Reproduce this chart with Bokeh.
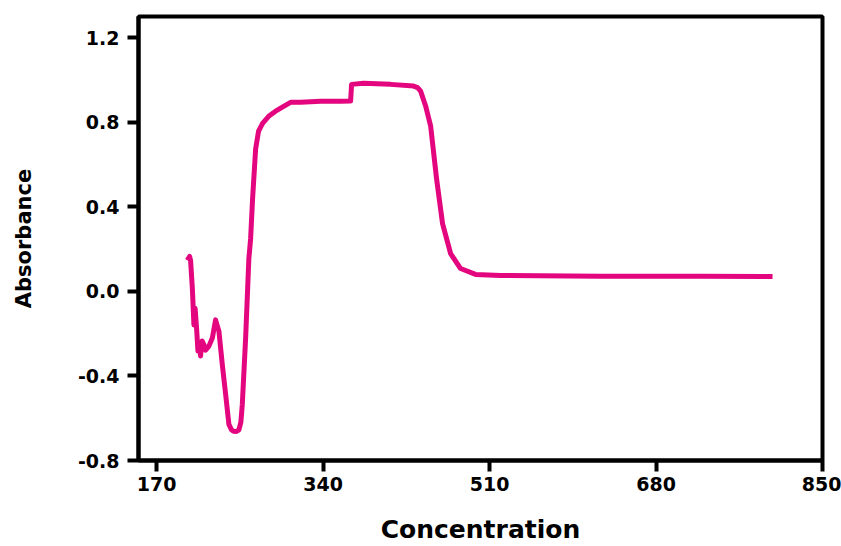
from bokeh.plotting import figure
from bokeh.models import FixedTicker, NumeralTickFormatter, Range1d
from bokeh.embed import file_html
from bokeh.resources import INLINE

concentration = [201.3, 203.7, 204.7, 206.5, 208.1, 209.3, 210.8, 212.2, 213.4, 214.9,
                 216.5, 218.3, 220.0, 223.4, 226.9, 230.2, 233.6, 237.1, 240.5, 243.8,
                 246.5, 248.9, 251.5, 254.0, 256.0, 257.5, 260.9, 264.2, 266.0, 268.0,
                 271.1, 274.1, 278.2, 284.4, 291.5, 299.7, 306.8, 317.0, 337.4, 357.9,
                 368.1, 369.1, 381.3, 408.9, 432.4, 436.5, 439.6, 444.7, 449.8, 455.9,
                 462.0, 470.2, 480.4, 495.7, 521.2, 623.3, 725.4, 799.0]
absorbance = [0.147, 0.165, 0.146, 0.014, -0.159, -0.08, -0.174, -0.282, -0.245, -0.306,
              -0.235, -0.253, -0.278, -0.259, -0.221, -0.135, -0.188, -0.347, -0.488, -0.629,
              -0.655, -0.662, -0.663, -0.655, -0.620, -0.535, -0.221, 0.155, 0.249, 0.438,
              0.673, 0.758, 0.795, 0.828, 0.852, 0.875, 0.894, 0.894, 0.899, 0.899,
              0.900, 0.979, 0.984, 0.979, 0.971, 0.964, 0.947, 0.877, 0.783, 0.532,
              0.320, 0.179, 0.108, 0.080, 0.075, 0.071, 0.071, 0.070]

x_ticks = [170, 340, 510, 680, 850]
y_ticks = [-0.8, -0.4, 0.0, 0.4, 0.8, 1.2]

p = figure(width=841, height=546, output_backend="svg", toolbar_location=None,
           x_range=Range1d(151.5, 850), y_range=Range1d(-0.8, 1.3),
           min_border_left=138, min_border_right=19, min_border_top=16, min_border_bottom=84,
           x_axis_label="Concentration", y_axis_label="Absorbance")

p.line(concentration, absorbance, line_color="#E3067F", line_width=5, line_join="round")

p.xgrid.visible = False
p.ygrid.visible = False
p.outline_line_color = "black"
p.outline_line_width = 4

p.xaxis.ticker = FixedTicker(ticks=x_ticks)
p.yaxis.ticker = FixedTicker(ticks=y_ticks)
p.yaxis.formatter = NumeralTickFormatter(format="0.0")

for ax in (p.xaxis, p.yaxis):
    ax.axis_line_width = 4
    ax.axis_line_color = "black"
    ax.major_tick_line_width = 4
    ax.major_tick_line_color = "black"
    ax.major_tick_out = 11
    ax.major_tick_in = 0
    ax.minor_tick_line_color = None
    ax.major_label_text_font = "DejaVu Sans"
    ax.major_label_text_font_style = "bold"
    ax.major_label_text_font_size = "19px"
    ax.major_label_text_color = "black"
    ax.axis_label_text_font = "DejaVu Sans"
    ax.axis_label_text_font_style = "bold"
    ax.axis_label_text_color = "black"

p.xaxis.major_label_standoff = 5
p.xaxis.axis_label_text_font_size = "25px"
p.xaxis.axis_label_text_line_height = 0.9
p.xaxis.axis_label_standoff = 21
p.yaxis.major_label_standoff = 8
p.yaxis.axis_label_text_font_size = "21px"
p.yaxis.axis_label_standoff = 39

open("out.html", "w").write(file_html(p, INLINE))
